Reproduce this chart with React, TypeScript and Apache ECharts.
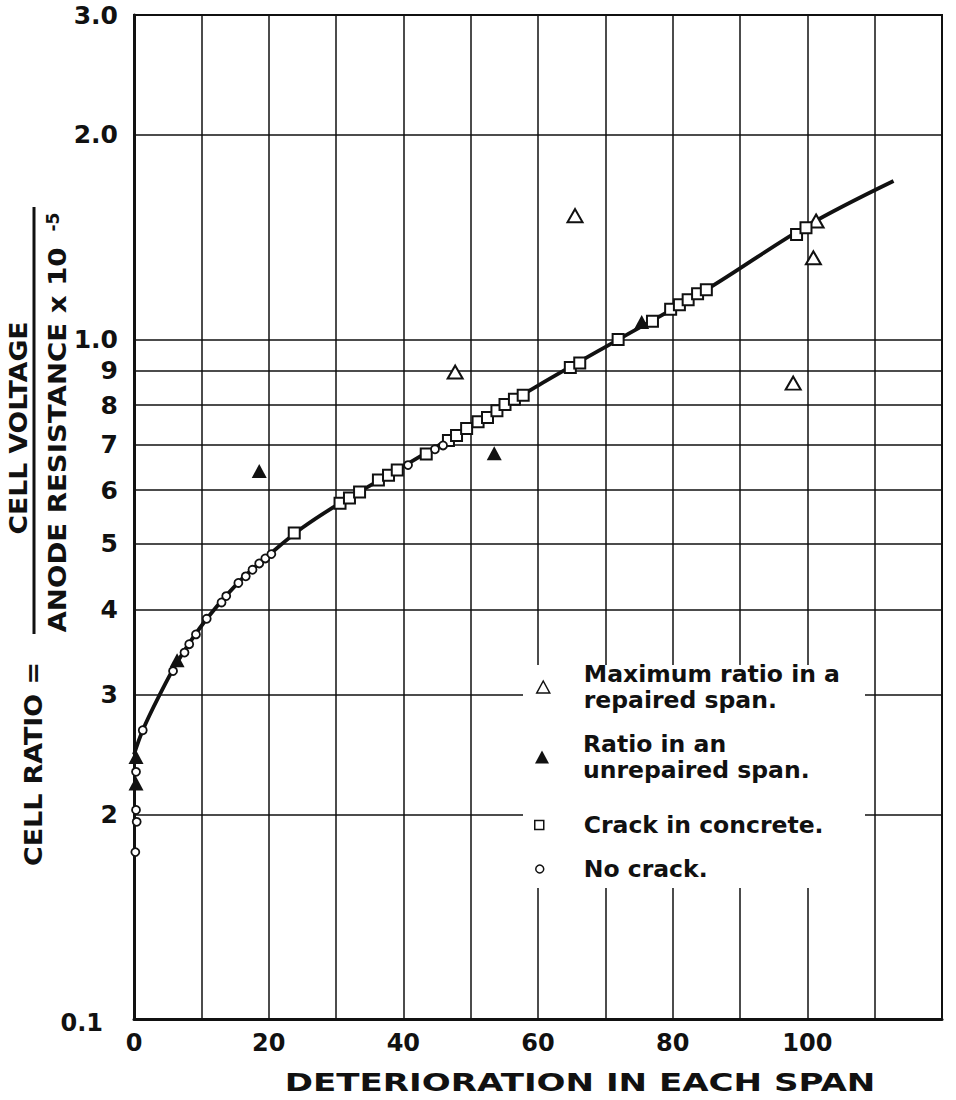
import React, { useEffect, useRef } from "react";
import * as echarts from "echarts";

// ---------- data ----------
const X_MIN = 0;
const X_MAX = 120;
const X_INTERVAL = 10;
const xTickLabels = [0, 20, 40, 60, 80, 100];

const Y_MIN = 0.1;
const Y_MAX = 3.0;
const yTickValues = [0.1, 0.2, 0.3, 0.4, 0.5, 0.6, 0.7, 0.8, 0.9, 1.0, 2.0, 3.0];
const yTickLabels = ["0.1", "2", "3", "4", "5", "6", "7", "8", "9", "1.0", "2.0", "3.0"];

const seriesNames = [
  "Maximum ratio in a\nrepaired span.",
  "Ratio in an\nunrepaired span.",
  "Crack in concrete.",
  "No crack.",
];

// Maximum ratio in a repaired span (open triangles)
const repairedMax = [
  [47.7, 0.895],
  [65.5, 1.52],
  [97.9, 0.862],
  [100.9, 1.318],
  [101.3, 1.493],
];

// Ratio in an unrepaired span (filled triangles)
const unrepaired = [
  [0.3, 0.222],
  [0.3, 0.243],
  [6.4, 0.337],
  [18.6, 0.64],
  [53.5, 0.68],
  [75.4, 1.06],
];

// Crack in concrete (open squares)
const crack = [
  [23.8, 0.519], [30.6, 0.574], [32.0, 0.584], [33.5, 0.596], [36.3, 0.621],
  [37.8, 0.631], [39.1, 0.642], [43.4, 0.678], [46.7, 0.71], [47.9, 0.722],
  [49.4, 0.739], [51.1, 0.756], [52.5, 0.767], [53.9, 0.785], [55.1, 0.802],
  [56.5, 0.816], [57.8, 0.827], [64.8, 0.909], [66.2, 0.923], [71.9, 0.999],
  [77.0, 1.063], [79.7, 1.107], [81.0, 1.124], [82.3, 1.143], [83.7, 1.167],
  [85.0, 1.183], [98.4, 1.426], [99.8, 1.459],
];

// No crack (small open circles)
const noCrack = [
  [0.2, 0.176], [0.4, 0.195], [0.3, 0.203], [0.3, 0.231], [1.3, 0.266],
  [5.8, 0.325], [7.5, 0.346], [8.2, 0.356], [9.2, 0.368], [10.8, 0.388],
  [13.0, 0.41], [13.7, 0.419], [15.5, 0.438], [16.6, 0.448], [17.6, 0.458],
  [18.6, 0.468], [19.5, 0.476], [20.4, 0.483], [40.7, 0.653], [44.7, 0.689],
  [45.9, 0.698],
];

// Fitted curve
const fitCurve = [
  [0, 0.245], [1.3, 0.266], [3.6, 0.297], [6.5, 0.336], [10.8, 0.388],
  [15.5, 0.439], [20.3, 0.484], [25, 0.528], [30.6, 0.574], [40, 0.65],
  [50, 0.745], [60, 0.855], [72, 1.0], [85, 1.183], [100, 1.47], [112.8, 1.71],
];

// ---------- helpers ----------
const FONT = "DejaVu Sans";
const INK = "#111";
const lg = (v: number) => Math.log10(v);
const toLog = (arr: number[][]) => arr.map(([x, y]) => [x, lg(y)]);

export default function App() {
  const ref = useRef<HTMLDivElement>(null);

  useEffect(() => {
    if (!ref.current) return;
    const chart = echarts.init(ref.current, undefined, { renderer: "svg" });

    const yLogTicks = yTickValues.map(lg);

    const legendBase = {
      orient: "vertical",
      selectedMode: false,
      padding: 0,
      textStyle: {
        fontFamily: FONT,
        fontSize: 23.5,
        fontWeight: "bold",
        color: INK,
        lineHeight: 26,
      },
    };

    const option: any = {
      animation: false,
      backgroundColor: "#fff",
      grid: {
        left: 134,
        right: 14,
        top: 15,
        bottom: 81,
        containLabel: false,
        outerBoundsMode: "none",
        show: true,
        borderColor: INK,
        borderWidth: 2,
        backgroundColor: "transparent",
      },
      xAxis: {
        type: "value",
        min: X_MIN,
        max: X_MAX,
        interval: X_INTERVAL,
        axisLine: { show: true, onZero: false, lineStyle: { color: INK, width: 3 } },
        axisTick: { show: false },
        splitLine: { show: true, lineStyle: { color: INK, width: 1.5 } },
        axisLabel: {
          margin: 12,
          fontFamily: FONT,
          fontSize: 24,
          fontWeight: "bold",
          color: INK,
          formatter: (v: number) => (xTickLabels.indexOf(v) >= 0 ? String(v) : ""),
        },
      },
      yAxis: {
        type: "value",
        min: lg(Y_MIN),
        max: lg(Y_MAX),
        axisLine: { show: true, onZero: false, lineStyle: { color: INK, width: 3 } },
        axisTick: { show: false, customValues: yLogTicks },
        splitLine: { show: true, lineStyle: { color: INK, width: 1.5 } },
        axisLabel: {
          customValues: yLogTicks,
          margin: 16,
          fontFamily: FONT,
          fontSize: 25,
          fontWeight: "bold",
          color: INK,
          formatter: (val: number) => {
            const i = yLogTicks.findIndex((t) => Math.abs(t - val) < 1e-6);
            if (i < 0) return "";
            return i === 0 ? "{low|" + yTickLabels[i] + "}" : yTickLabels[i];
          },
          rich: {
            low: {
              fontFamily: FONT,
              fontSize: 24,
              fontWeight: "bold",
              color: INK,
              padding: [8, 15, 0, 0],
            },
          },
        },
      },
      legend: [
        {
          ...legendBase,
          left: 536,
          top: 648,
          itemWidth: 13,
          itemHeight: 12,
          itemStyle: { borderWidth: 1.5 },
          data: [{ name: seriesNames[0], textStyle: { padding: [26, 0, 0, 29] } }],
        },
        {
          ...legendBase,
          left: 535,
          top: 718,
          itemWidth: 14,
          itemHeight: 13,
          data: [{ name: seriesNames[1], textStyle: { padding: [26, 0, 0, 29] } }],
        },
        {
          ...legendBase,
          left: 534,
          top: 812,
          itemWidth: 9,
          itemHeight: 9,
          itemStyle: { borderWidth: 1.5 },
          data: [{ name: seriesNames[2], textStyle: { padding: [0, 0, 0, 35] } }],
        },
        {
          ...legendBase,
          left: 535,
          top: 856,
          itemWidth: 8,
          itemHeight: 8,
          itemStyle: { borderWidth: 1.5 },
          data: [{ name: seriesNames[3], textStyle: { padding: [0, 0, 0, 35] } }],
        },
      ],
      graphic: [
        {
          type: "rect",
          z: 1,
          shape: { x: 523, y: 665, width: 342, height: 223 },
          style: { fill: "#fff" },
        },
        {
          type: "text",
          x: 34,
          y: 764,
          rotation: Math.PI / 2,
          scaleX: 1.12,
          style: {
            text: "CELL RATIO =",
            fontFamily: FONT,
            fontSize: 24,
            fontWeight: "bold",
            fill: INK,
            align: "center",
            verticalAlign: "middle",
          },
        },
        {
          type: "text",
          x: 18,
          y: 428,
          rotation: Math.PI / 2,
          scaleX: 1.11,
          style: {
            text: "CELL VOLTAGE",
            fontFamily: FONT,
            fontSize: 24,
            fontWeight: "bold",
            fill: INK,
            align: "center",
            verticalAlign: "middle",
          },
        },
        {
          type: "line",
          shape: { x1: 34, y1: 207, x2: 34, y2: 634 },
          style: { stroke: INK, lineWidth: 3 },
        },
        {
          type: "text",
          x: 58,
          y: 440,
          rotation: Math.PI / 2,
          scaleX: 1.15,
          style: {
            text: "ANODE RESISTANCE x 10",
            fontFamily: FONT,
            fontSize: 24,
            fontWeight: "bold",
            fill: INK,
            align: "center",
            verticalAlign: "middle",
          },
        },
        {
          type: "text",
          x: 53,
          y: 222,
          rotation: Math.PI / 2,
          style: {
            text: "-5",
            fontFamily: FONT,
            fontSize: 17,
            fontWeight: "bold",
            fill: INK,
            align: "center",
            verticalAlign: "middle",
          },
        },
        {
          type: "text",
          x: 580,
          y: 1083,
          scaleX: 1.42,
          style: {
            text: "DETERIORATION IN EACH SPAN",
            fontFamily: FONT,
            fontSize: 24,
            fontWeight: "bold",
            fill: INK,
            align: "center",
            verticalAlign: "middle",
          },
        },
      ],
      series: [
        {
          name: "fit",
          type: "line",
          data: toLog(fitCurve),
          smooth: 0.35,
          showSymbol: false,
          symbol: "none",
          lineStyle: { color: INK, width: 3.8 },
          z: 2,
        },
        {
          name: seriesNames[0],
          type: "scatter",
          data: toLog(repairedMax),
          symbol: "triangle",
          symbolSize: [15, 13],
          itemStyle: { color: "#fff", borderColor: INK, borderWidth: 2, opacity: 1 },
          z: 3,
        },
        {
          name: seriesNames[1],
          type: "scatter",
          data: toLog(unrepaired),
          symbol: "triangle",
          symbolSize: [15, 14],
          itemStyle: { color: INK, borderColor: INK, borderWidth: 0, opacity: 1 },
          z: 3,
        },
        {
          name: seriesNames[2],
          type: "scatter",
          data: toLog(crack),
          symbol: "rect",
          symbolSize: 11,
          itemStyle: { color: "#fff", borderColor: INK, borderWidth: 2, opacity: 1 },
          z: 3,
        },
        {
          name: seriesNames[3],
          type: "scatter",
          data: toLog(noCrack),
          symbol: "circle",
          symbolSize: 8,
          itemStyle: { color: "#fff", borderColor: INK, borderWidth: 1.8, opacity: 1 },
          z: 3,
        },
      ],
    };

    chart.setOption(option);
    return () => chart.dispose();
  }, []);

  return (
    <div
      ref={ref}
      style={{ position: "absolute", left: 0, top: 0, width: 956, height: 1100 }}
    />
  );
}
